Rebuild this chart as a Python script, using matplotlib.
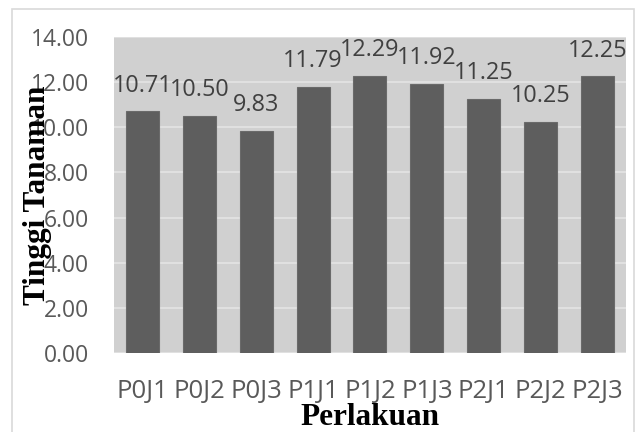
import matplotlib.pyplot as plt
from matplotlib.patches import Rectangle

# Tinggi tanaman per perlakuan
perlakuan = ["P0J1", "P0J2", "P0J3", "P1J1", "P1J2", "P1J3", "P2J1", "P2J2", "P2J3"]
tinggi = [10.71, 10.50, 9.83, 11.79, 12.29, 11.92, 11.25, 10.25, 12.25]
yticks = [0, 2, 4, 6, 8, 10, 12, 14]

fig = plt.figure(figsize=(6.35, 4.32), dpi=100)
ax = fig.add_axes([0.1795, 0.1829, 0.8063, 0.7315])

# chart frame
fig.patches.append(Rectangle((12 / 635, -0.01), 622 / 635, 1 - 9 / 432 + 0.01,
                             transform=fig.transFigure, fill=False,
                             edgecolor="#d9d9d9", linewidth=1.2))

ax.set_facecolor("#d0d0d0")
x = range(len(perlakuan))
bars = ax.bar(x, tinggi, width=0.58, color="#5e5e5e", edgecolor="#6a6a6a",
              linewidth=0.8, zorder=3)

for xi, v in zip(x, tinggi):
    ax.annotate(f"{v:.2f}", (xi, v), xytext=(0, 18.5), textcoords="offset points",
                ha="center", va="center", fontsize=16.8, color="#404040",
                family="Open Sans", zorder=4)

ax.set_xlim(-0.5, len(perlakuan) - 0.5)
ax.set_ylim(0, 14)
ax.set_yticks(yticks)
ax.set_yticklabels([f"{t:.2f}" for t in yticks])
ax.set_xticks(list(x))
ax.set_xticklabels(perlakuan)
ax.grid(axis="y", color="#e4e4e4", linewidth=1.2, zorder=1)
ax.set_axisbelow(True)
for s in ax.spines.values():
    s.set_visible(False)
ax.tick_params(length=0, labelcolor="#595959", pad=0)
ax.tick_params(axis="y", pad=18, labelsize=16.5)
ax.tick_params(axis="x", pad=19, labelsize=18.5)
for lbl in ax.get_xticklabels() + ax.get_yticklabels():
    lbl.set_family("Open Sans")

ax.set_ylabel("Tinggi Tanaman", family="Liberation Serif", weight="bold",
              fontsize=22.5, va="center")
ax.yaxis.set_label_coords(-0.15, 0.5)
ax.set_xlabel("Perlakuan", family="Liberation Serif", weight="bold",
              fontsize=22.5, va="center")
ax.xaxis.set_label_coords(0.5, -0.205)

fig.savefig("out.png", dpi=100)
